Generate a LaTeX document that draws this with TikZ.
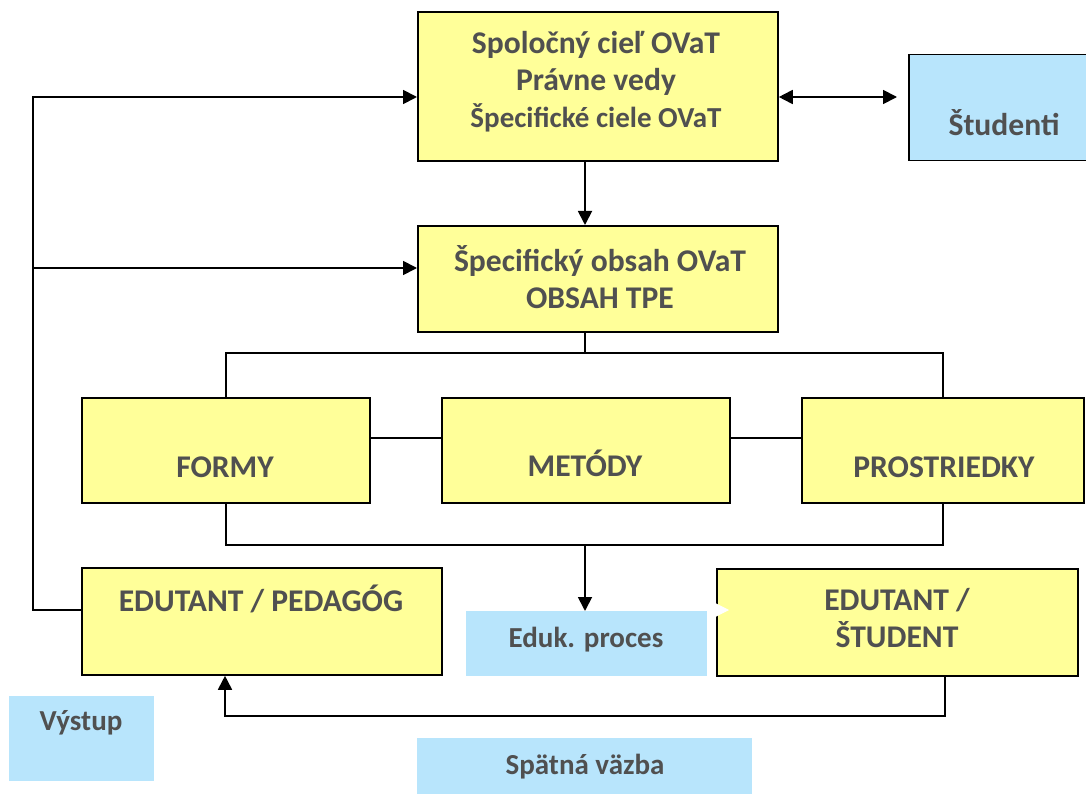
\documentclass[tikz,border=0pt]{standalone}
\usepackage{fontspec}
\setmainfont{Carlito}
\usetikzlibrary{arrows.meta,calc}
\definecolor{ylw}{RGB}{255,255,153}
\definecolor{lblue}{RGB}{184,229,252}
\definecolor{txtc}{RGB}{80,80,80}
\begin{document}
\begin{tikzpicture}[x=1pt,y=-1pt,
  ybox/.style={draw=black, line width=1.8pt, fill=ylw, inner sep=0pt, anchor=north west},
  bbox/.style={fill=lblue, inner sep=0pt, anchor=north west},
  lbl/.style={text=txtc, font=\bfseries\fontsize{31.6}{37}\selectfont, align=center, inner sep=0pt},
  slbl/.style={text=txtc, font=\bfseries\fontsize{29}{35}\selectfont, align=center, inner sep=0pt},
  ln/.style={draw=black, line width=1.8pt},
  arr/.style={ln, -{Triangle[length=14pt,width=14pt]}},
  dbl/.style={ln, {Triangle[length=14pt,width=14pt]}-{Triangle[length=14pt,width=14pt]}}]
\useasboundingbox (0,0) rectangle (1086,794);
\fill[white] (0,0) rectangle (1086,794);

% boxes
\node[ybox, minimum width=360pt, minimum height=149pt] (top) at (417,11) {};
\node[ybox, minimum width=360pt, minimum height=106pt] (obs) at (417,225) {};
\node[ybox, minimum width=288pt, minimum height=105pt] (formy) at (81,397) {};
\node[ybox, minimum width=288pt, minimum height=105pt] (metody) at (441,397) {};
\node[ybox, minimum width=282pt, minimum height=105pt] (prost) at (801,397) {};
\node[ybox, minimum width=360pt, minimum height=107pt] (ped) at (81,567) {};
\node[ybox, minimum width=361pt, minimum height=107pt] (stud) at (716,568) {};
\node[bbox, draw=black, line width=1.5pt, minimum width=190pt, minimum height=106pt] (studenti) at (908,54) {};
\node[bbox, minimum width=145pt, minimum height=85pt] (vystup) at (9,696) {};
\node[bbox, minimum width=335pt, minimum height=60pt] (spatna) at (417,738) {};

% coordinates
\coordinate (c585) at (585,0);
\coordinate (j1) at (585,353);
\coordinate (j2) at (585,545);
\coordinate (h438) at (0,438);
\coordinate (fbR) at (945,716);
\coordinate (fbL) at (225,716);
\coordinate (L1) at (33,610);
\coordinate (L2) at (33,97);
\coordinate (L3) at (33,268);
\coordinate (S1) at (897,97);
\coordinate (W) at (0,610);

% hidden white arrow (visible only where it crosses the boxes)
\draw[white, line width=1pt, -{Triangle[length=13pt,width=13pt]}, shorten >=-13pt] (ped.east |- W) -- (stud.west |- W);

\node[bbox, minimum width=241pt, minimum height=65pt] (eduk) at (466,611) {};

% connectors
\draw[arr] (top.south -| c585) -- (obs.north -| c585);
\draw[dbl] (top.east |- S1) -- (S1);
\draw[ln] (obs.south -| j1) -- (j1);
\draw[ln] (formy.north) |- (j1) -| (prost.north);
\draw[ln] (formy.east |- h438) -- (metody.west |- h438);
\draw[ln] (metody.east |- h438) -- (prost.west |- h438);
\draw[ln] (formy.south) |- (j2) -| (prost.south);
\draw[arr] (j2) -- (eduk.north -| j2);
\draw[arr] (stud.south -| fbR) -- (fbR) -- (fbL) -- (ped.south -| fbL);
\draw[arr] (ped.west |- L1) -- (L1) -- (L2) -- (top.west |- L2);
\draw[arr] (L3) -- (obs.west |- L3);

% labels
\node[lbl] (topT) at (596,82) {Spoločný cieľ OVaT\\Právne vedy\\{\fontsize{29}{37}\selectfont Špecifické ciele OVaT}};
\node[lbl] (obsT) at (600,277) {Špecifický obsah OVaT\\OBSAH TPE};
\node[lbl] (formyT) at (225,467) {FORMY};
\node[lbl] (metodyT) at (585,463.5) {METÓDY};
\node[lbl] (prostT) at (944,467) {PROSTRIEDKY};
\node[lbl] (pedT) at (261,599) {EDUTANT / PEDAGÓG};
\node[lbl] (studT) at (897,618) {EDUTANT /\\ŠTUDENT};
\node[lbl] (studentiT) at (1004,123) {Študenti};
\node[slbl] (vystupT) at (81,723) {Výstup};
\node[slbl] (edukT) at (586,640) {Eduk. proces};
\node[slbl] (spatnaT) at (585,767) {Spätná väzba};
\end{tikzpicture}
\end{document}
